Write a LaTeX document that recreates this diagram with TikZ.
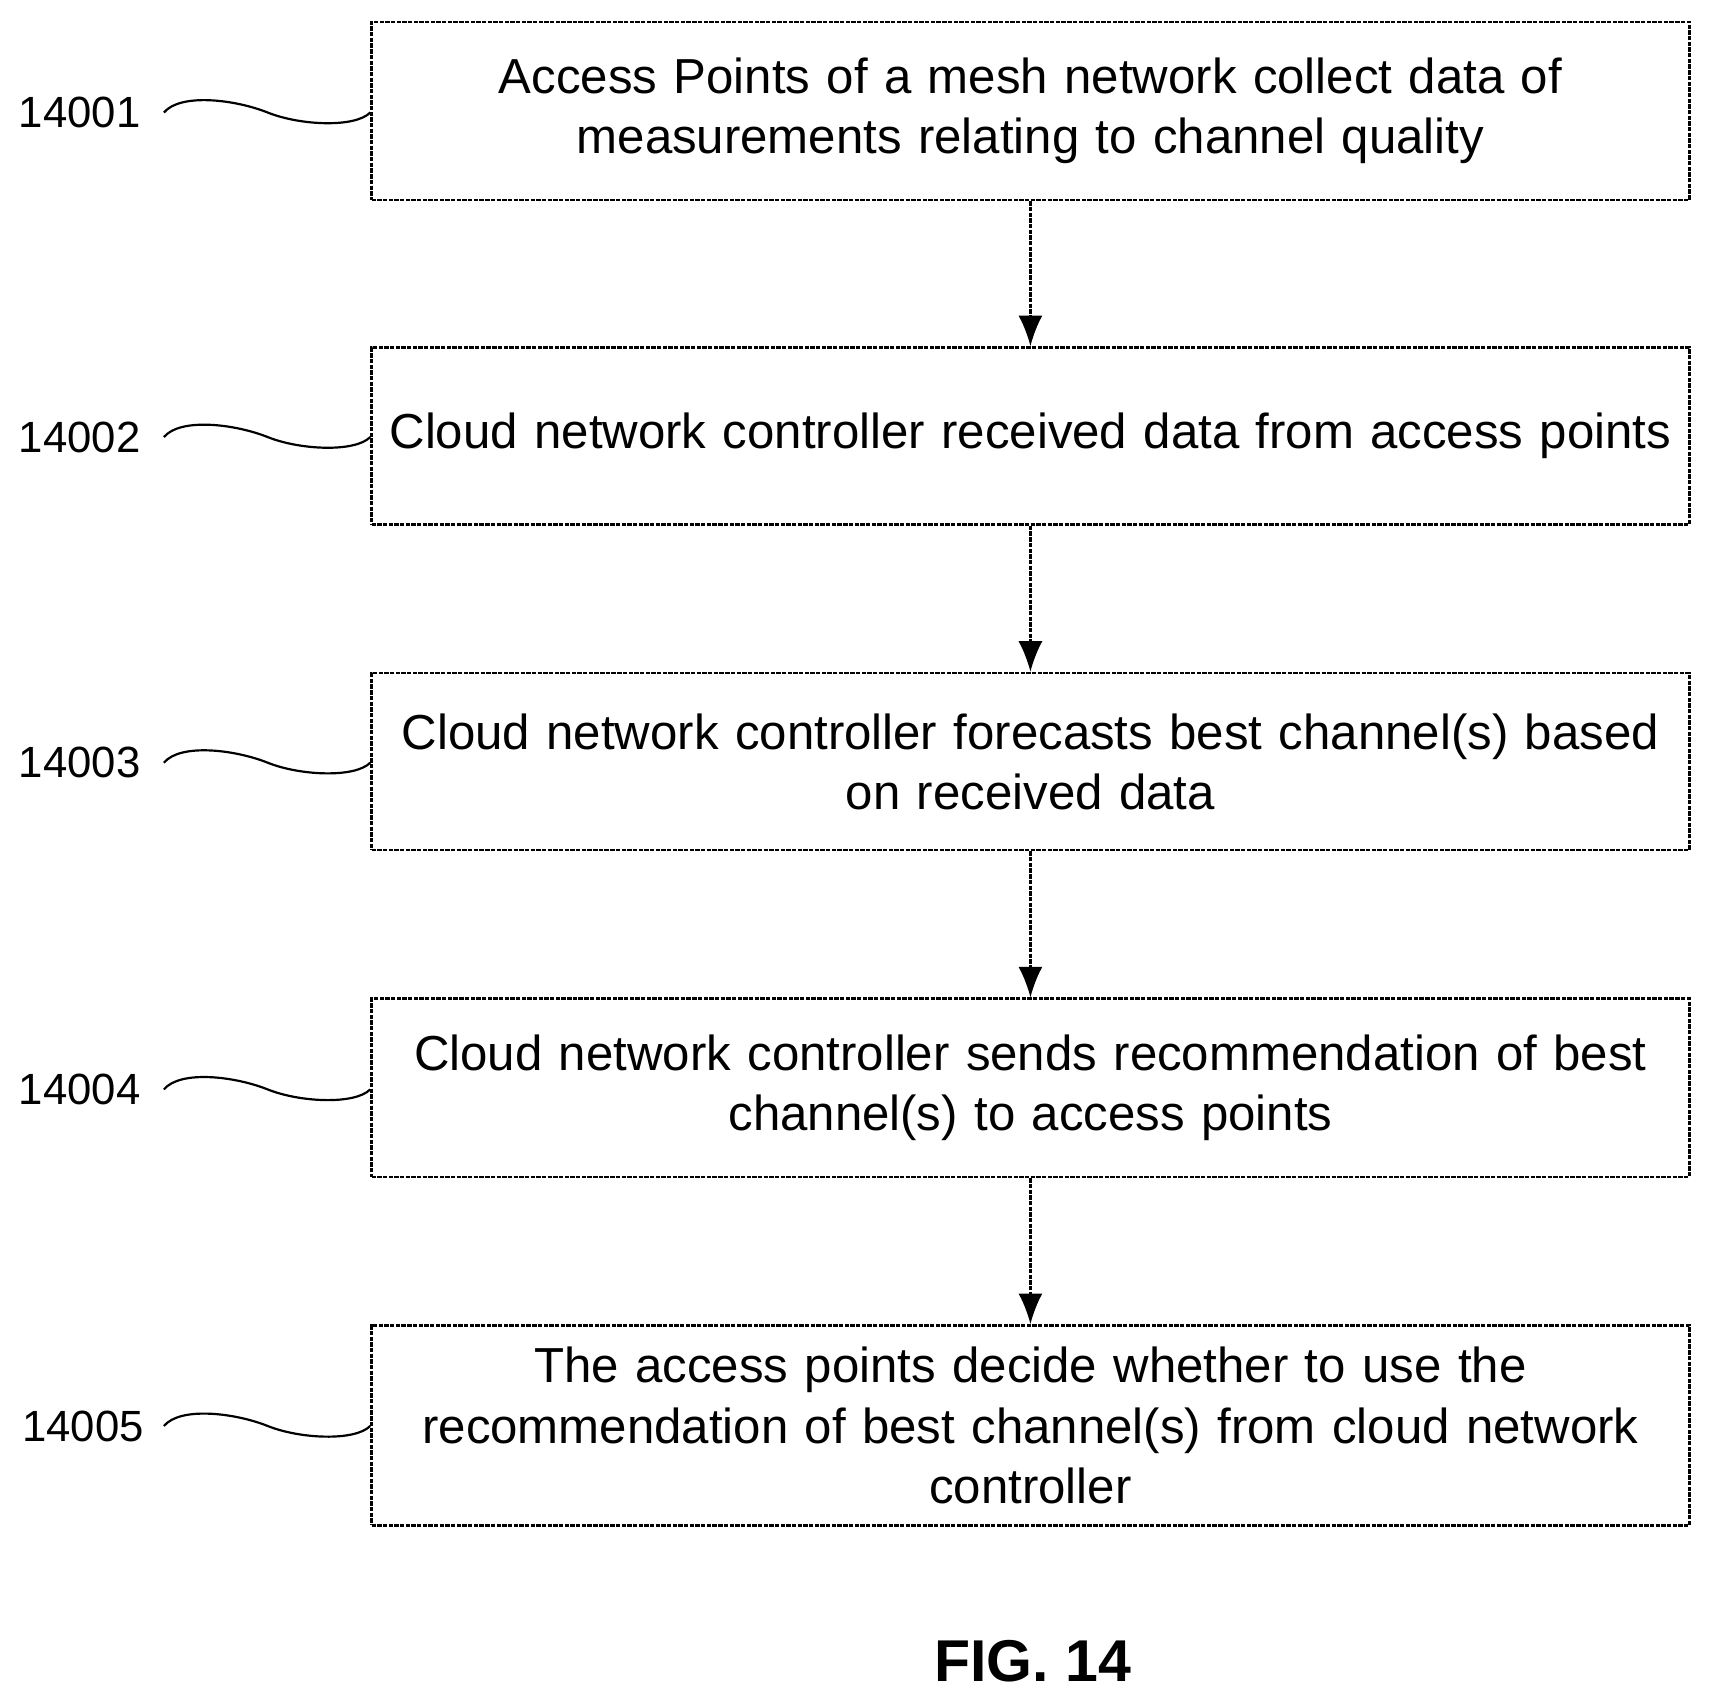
\documentclass[tikz,border=0pt]{standalone}
\usepackage{fontspec}
\setmainfont{Liberation Sans}
\usetikzlibrary{arrows.meta}
\begin{document}
\begin{tikzpicture}[x=0.5pt,y=-0.5pt,
  box/.style={draw, line width=1.2pt, dash pattern=on 2pt off 0.6pt, minimum width=603pt, align=center, font=\fontsize{22.5}{27.5}\selectfont, text width=600pt, inner sep=0pt},
  lab/.style={font=\fontsize{20}{24}\selectfont},
  arr/.style={line width=1pt, dash pattern=on 2pt off 0.6pt, -{Latex[length=14pt,width=11pt]}},
  sq/.style={line width=1pt}]
\useasboundingbox (0,0) rectangle (1564,1556);
\node[box, minimum height=81.5pt] (b1) at (943,101.5) {Access Points of a mesh network collect data of\\measurements relating to channel quality};
\node[box, minimum height=81pt] (b2) at (943,399) {Cloud network controller received data from access points};
\node[box, minimum height=81pt] (b3) at (943,697) {Cloud network controller forecasts best channel(s) based\\on received data};
\node[box, minimum height=81.5pt] (b4) at (943,995.5) {Cloud network controller sends recommendation of best\\channel(s) to access points};
\node[box, minimum height=91.5pt] (b5) at (943,1304.5) {The access points decide whether to use the\\recommendation of best channel(s) from cloud network\\controller};
\foreach \a/\b in {b1/b2,b2/b3,b3/b4,b4/b5} \draw[arr] (\a.south) -- (\b.north);
\foreach \i/\y/\x in {1/103/73,2/400/73,3/698/73,4/997/73,5/1305/76} {
  \node[lab] (l\i) at (\x,\y) {1400\i};
  \coordinate (s\i) at (150,\y);
  \draw[sq] (s\i) .. controls (165,\y-18) and (215,\y-12) .. (245,\y) .. controls (275,\y+12) and (325,\y+14) .. (b\i.west |- 0,\y);
}
\node[font=\bfseries\fontsize{27}{30}\selectfont] (fig) at (945,1520) {FIG. 14};
\end{tikzpicture}
\end{document}
